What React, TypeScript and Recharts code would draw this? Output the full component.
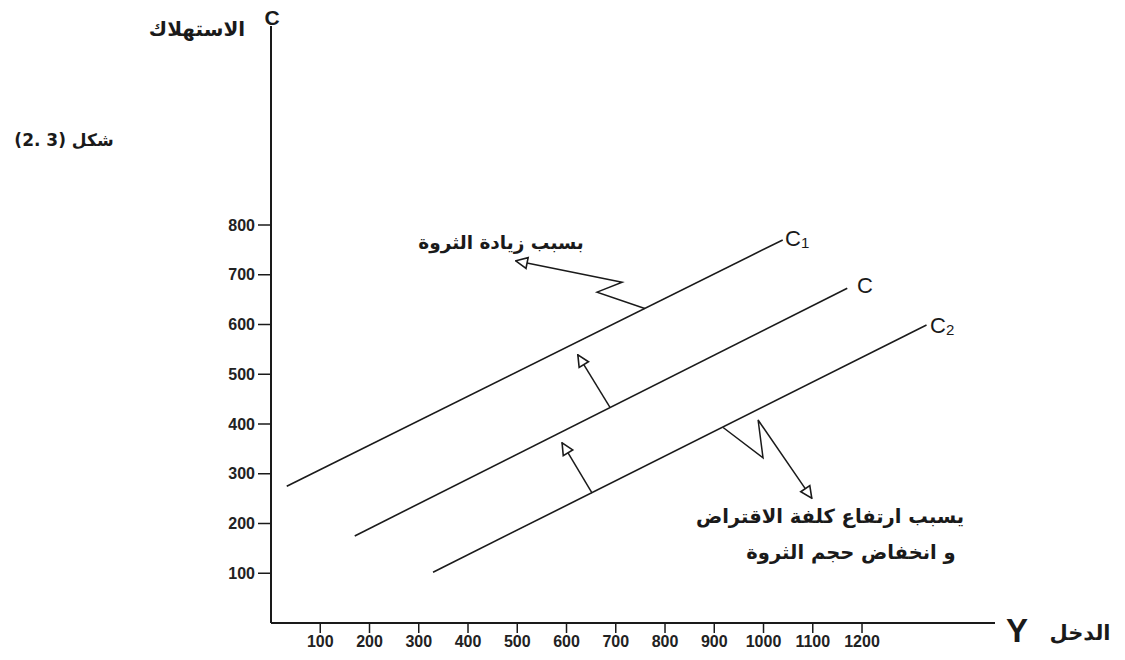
import React from 'react';
import { LineChart, Line, XAxis, YAxis } from 'recharts';

// Tick labels
const xTicks = [100, 200, 300, 400, 500, 600, 700, 800, 900, 1000, 1100, 1200];
const yTicks = [100, 200, 300, 400, 500, 600, 700, 800];

// Consumption functions (income Y -> consumption C)
const c1Data = [{ x: 32, y: 275 }, { x: 1039, y: 770 }];
const cData = [{ x: 170, y: 175 }, { x: 1170, y: 673 }];
const c2Data = [{ x: 329, y: 102 }, { x: 1331, y: 599 }];

// Shift arrows (data coordinates)
const arrowCtoC1 = [{ x: 688, y: 434 }, { x: 623, y: 539 }];
const arrowC2toC = [{ x: 652, y: 261 }, { x: 591, y: 362 }];
const wealthArrow = [{ x: 759, y: 632 }, { x: 662, y: 665 }, { x: 713, y: 685 }, { x: 497, y: 728 }];
const borrowArrow = [{ x: 918, y: 393 }, { x: 999, y: 332 }, { x: 989, y: 408 }, { x: 1098, y: 251 }];

const INK = '#1a1a1a';
const ar = '"DejaVu Sans", sans-serif';
const lat = '"Liberation Sans", Arial, sans-serif';

export default function App() {
  const lineProps = { type: 'linear' as const, dataKey: 'y', stroke: INK, strokeWidth: 1.6, dot: false, isAnimationActive: false, activeDot: false };
  return (
    <div style={{ position: 'absolute', left: 0, top: 0, width: 1125, height: 660, background: '#fff' }}>
      <svg width={0} height={0} style={{ position: 'absolute' }}>
        <defs>
          <marker id="openTri" viewBox="0 0 14 14" refX={13} refY={7} markerWidth={14} markerHeight={14} markerUnits="userSpaceOnUse" orient="auto">
            <path d="M1.5,1.5 L13,7 L1.5,12.5 Z" fill="#fff" stroke={INK} strokeWidth={1.6} />
          </marker>
        </defs>
      </svg>
      <LineChart width={1125} height={660} margin={{ top: 26, right: 130, bottom: 7, left: 211 }}>
        <XAxis
          type="number"
          dataKey="x"
          domain={[0, 1470]}
          ticks={xTicks}
          allowDataOverflow
          height={30}
          tickSize={10}
          tickMargin={3}
          axisLine={{ stroke: INK, strokeWidth: 2 }}
          tickLine={{ stroke: INK, strokeWidth: 1.5 }}
          tick={{ fill: '#222', fontSize: 16, fontFamily: lat, fontWeight: 'bold' }}
          interval={0}
        />
        <YAxis
          type="number"
          dataKey="y"
          domain={[0, 1200]}
          ticks={yTicks}
          allowDataOverflow
          width={60}
          tickSize={13}
          tickMargin={3}
          axisLine={{ stroke: INK, strokeWidth: 2 }}
          tickLine={{ stroke: INK, strokeWidth: 1.5 }}
          tick={{ fill: '#222', fontSize: 16, fontFamily: lat, fontWeight: 'bold' }}
          interval={0}
        />
        <Line {...lineProps} data={c1Data} name="C1" />
        <Line {...lineProps} data={cData} name="C" />
        <Line {...lineProps} data={c2Data} name="C2" />
        <Line {...lineProps} data={arrowCtoC1} strokeWidth={1.5} markerEnd="url(#openTri)" />
        <Line {...lineProps} data={arrowC2toC} strokeWidth={1.5} markerEnd="url(#openTri)" />
        <Line {...lineProps} data={wealthArrow} strokeWidth={1.5} markerEnd="url(#openTri)" />
        <Line {...lineProps} data={borrowArrow} strokeWidth={1.5} markerEnd="url(#openTri)" />
      </LineChart>
      <svg width={1125} height={660} style={{ position: 'absolute', left: 0, top: 0, pointerEvents: 'none' }}>
        <text x={272} y={25} textAnchor="middle" fontFamily={lat} fontSize={21} fontWeight="bold" fill={INK}>C</text>
        <text x={197} y={36} textAnchor="middle" fontFamily={ar} fontSize={20} fontWeight="bold" fill={INK}>الاستهلاك</text>
        <text x={64} y={146} textAnchor="middle" fontFamily={ar} fontSize={17} fontWeight="bold" fill={INK} direction="ltr">{'(2. 3) شكل'}</text>
        <text x={501} y={249} textAnchor="middle" fontFamily={ar} fontSize={18.5} fontWeight="bold" fill={INK}>بسبب زيادة الثروة</text>
        <text x={830} y={523} textAnchor="middle" fontFamily={ar} fontSize={19.5} fontWeight="bold" fill={INK}>يسبب ارتفاع كلفة الاقتراض</text>
        <text x={851} y={559} textAnchor="middle" fontFamily={ar} fontSize={19.5} fontWeight="bold" fill={INK}>و انخفاض حجم الثروة</text>
        <text x={1080} y={640} textAnchor="middle" fontFamily={ar} fontSize={21} fontWeight="bold" fill={INK}>الدخل</text>
        <text x={1017} y={642} textAnchor="middle" fontFamily={lat} fontSize={33} fontWeight="bold" fill={INK}>Y</text>
        <text x={785} y={246} fontFamily={lat} fontSize={22} fill={INK}>C<tspan fontSize={15} dy={2}>1</tspan></text>
        <text x={857} y={293} fontFamily={lat} fontSize={22} fill={INK}>C</text>
        <text x={930} y={333} fontFamily={lat} fontSize={22} fill={INK}>C<tspan fontSize={15} dy={2}>2</tspan></text>
      </svg>
    </div>
  );
}
